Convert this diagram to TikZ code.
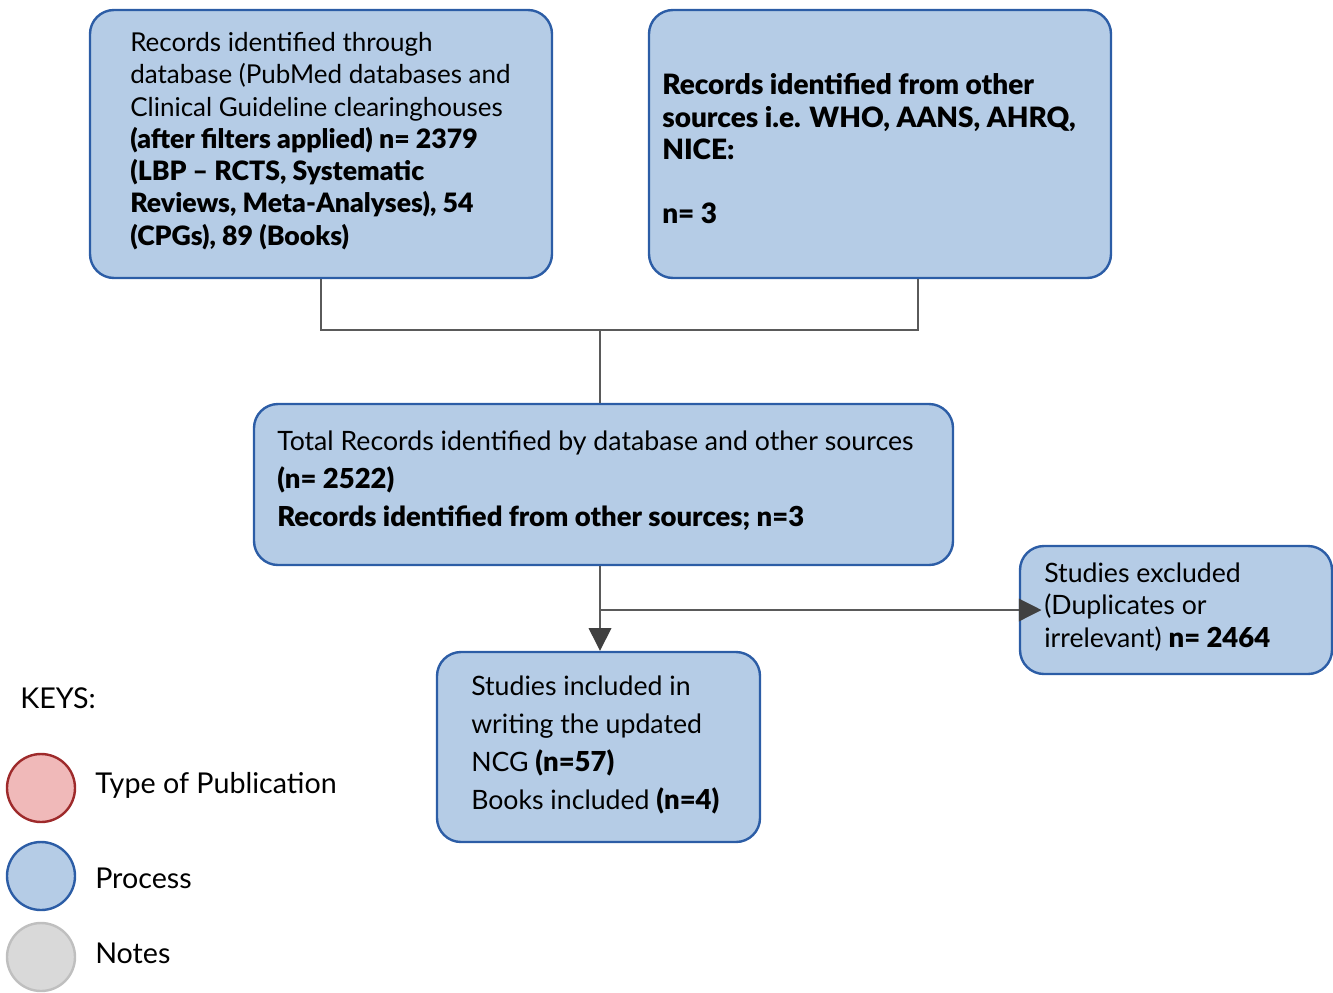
\documentclass[tikz,border=0pt]{standalone}
\usepackage{fontspec}
\setmainfont{Lato}[BoldFont={Lato Black}]
\usetikzlibrary{arrows.meta,calc}
\newdimen\pxu \pxu=0.75pt
\newcommand\bigbf[2]{{\fontsize{#1}{\baselineskip}\selectfont\bfseries #2}}
\definecolor{boxfill}{HTML}{B5CCE6}
\definecolor{boxline}{HTML}{2C5DA6}
\definecolor{linegray}{HTML}{5A5A5A}
\definecolor{arrowgray}{HTML}{404040}
\definecolor{pubfill}{HTML}{F0B9B9}
\definecolor{publine}{HTML}{9E2A2B}
\definecolor{notefill}{HTML}{D9D9D9}
\definecolor{noteline}{HTML}{BFBFBF}
\begin{document}
\begin{tikzpicture}[x=0.75pt,y=-0.75pt,
  procbox/.style={draw=boxline, fill=boxfill, line width=2.4\pxu, rounded corners=24\pxu, inner sep=0pt},
  txt/.style={inner sep=0pt, align=left, anchor=west, font=\fontsize{19.5pt}{24.2pt}\selectfont},
  txtwide/.style={txt, font=\fontsize{20pt}{28.5pt}\selectfont},
  conn/.style={draw=linegray, line width=1.3\pxu},
  arr/.style={conn, -{Triangle[length=17pt,width=17pt,color=arrowgray]}},
  keycirc/.style={circle, minimum size=68\pxu, inner sep=0pt, line width=2.4\pxu},
  keytxt/.style={inner sep=0pt, anchor=base west, font=\fontsize{21.5pt}{24pt}\selectfont}
]
\useasboundingbox (0,0) rectangle (1333,992);

% boxes
\node[procbox, minimum width=462\pxu, minimum height=268\pxu] (b1) at (321,144) {};
\node[procbox, minimum width=462\pxu, minimum height=268\pxu] (b2) at (880,144) {};
\node[procbox, minimum width=699\pxu, minimum height=161\pxu] (b3) at (603.5,484.5) {};
\node[procbox, minimum width=323\pxu, minimum height=190\pxu] (b4) at (598.5,747) {};
\node[procbox, minimum width=312\pxu, minimum height=128\pxu] (b5) at (1176,610) {};

% texts
\node[txt] (t1) at (130,141) {Records identified through\\
database (PubMed databases and\\
Clinical Guideline clearinghouses\\
\bigbf{20pt}{(after filters applied) n= 2379}\\
\bigbf{20pt}{(LBP – RCTS, Systematic}\\
\bigbf{20pt}{Reviews, Meta-Analyses), 54}\\
\bigbf{20pt}{(CPGs), 89 (Books)}};

\node[txt, font=\bfseries\fontsize{21pt}{24.2pt}\selectfont] (t2) at (662,149) {Records identified from other\\
sources i.e. WHO, AANS, AHRQ,\\
NICE:\\[24.2pt]
n= 3};

\node[txtwide] (t3) at (277,481) {Total Records identified by database and other sources\\
\bigbf{20.6pt}{(n= 2522)}\\
\bigbf{20.6pt}{Records identified from other sources; n=3}};

\node[txtwide] (t4) at (471,745) {Studies included in\\
writing the updated\\
NCG \bigbf{20.6pt}{(n=57)}\\
Books included \bigbf{20.6pt}{(n=4)}};

\node[txt, font=\fontsize{20pt}{24.2pt}\selectfont] (t5) at (1044,607) {Studies excluded\\
(Duplicates or\\
irrelevant) \bigbf{20.6pt}{n= 2464}};

% connectors
\coordinate (j) at (600,330);
\coordinate (k) at (600,610);
\draw[conn] (b1.south) |- (j) -| ([xshift=38\pxu]b2.south);
\draw[conn] (j) -- (b3.north -| j);
\draw[arr] (b3.south -| j) -- (b4.north -| j);
\draw[arr, shorten >=-17pt] (k) -- (b5.west);

% legend
\node[inner sep=0pt, anchor=base west, font=\fontsize{21.5pt}{24pt}\selectfont] (keys) at (20,708) {KEYS:};
\node[keycirc, draw=publine, fill=pubfill] (c1) at (41,788) {};
\node[keycirc, draw=boxline, fill=boxfill] (c2) at (41,876) {};
\node[keycirc, draw=noteline, fill=notefill] (c3) at (41,957) {};
\node[keytxt] (l1) at (95,793) {Type of Publication};
\node[keytxt] (l2) at (95,888) {Process};
\node[keytxt] (l3) at (95,963) {Notes};
\end{tikzpicture}
\end{document}
